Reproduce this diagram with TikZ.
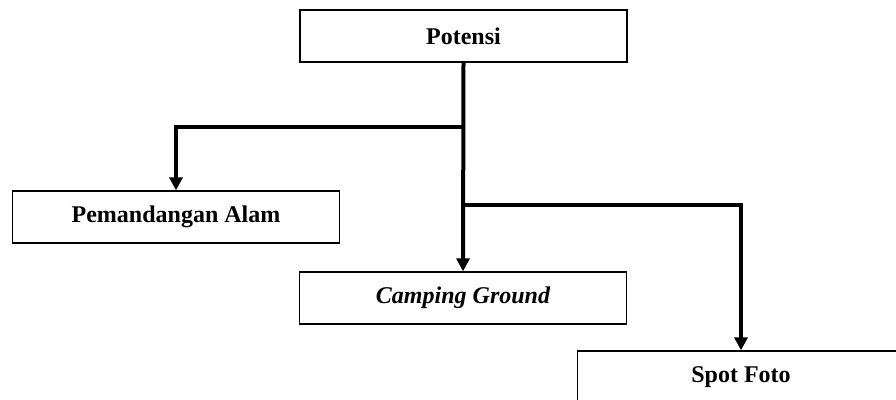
\documentclass[tikz,border=0pt]{standalone}
\usepackage{fontspec}
\setmainfont{Liberation Serif}
\usetikzlibrary{arrows.meta}
\begin{document}
\begin{tikzpicture}[x=1pt,y=-1pt,
  boxnode/.style={draw=black,line width=1.3pt,minimum width=327pt,minimum height=52pt,inner sep=0pt,
    font=\fontsize{24}{28}\selectfont\bfseries},
  conn/.style={line width=4pt,-{Triangle[length=13pt,width=13pt]}}]
\useasboundingbox (0,0) rectangle (896,399);
\node[boxnode] (pot) at (463.5,36) {Potensi};
\node[boxnode] (pem) at (176,217) {Pemandangan Alam};
\node[boxnode] (camp) at (463,298) {\itshape Camping Ground};
\node[boxnode] (spot) at (741,377) {Spot Foto};
\coordinate (b1) at (463,127);
\coordinate (b2) at (463,205);
\draw[conn] (pot.south) -- (camp.north);
\draw[conn] (b1) -| (pem.north);
\draw[conn] (b2) -| (spot.north);
\end{tikzpicture}
\end{document}
